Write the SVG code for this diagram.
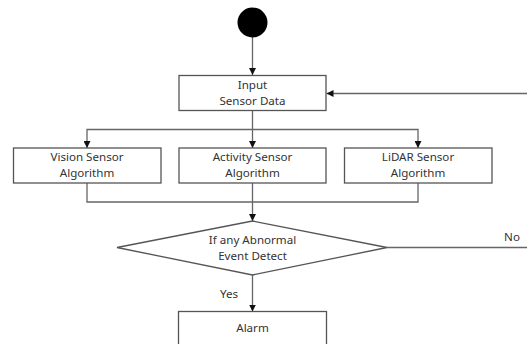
<svg xmlns="http://www.w3.org/2000/svg" width="527" height="344" viewBox="0 0 527 344">
<defs>
<marker id="ah" viewBox="0 0 10 10" refX="10" refY="5" markerWidth="7" markerHeight="7" orient="auto" markerUnits="userSpaceOnUse">
<path d="M0,0 L10,5 L0,10 z" fill="#111"/>
</marker>
<style>
.box{fill:#fff;stroke:#555;stroke-width:1.3}
.ln{fill:none;stroke:#666;stroke-width:1.3}
.t{font-family:"Noto Sans","Open Sans",sans-serif;font-size:11.6px;fill:#333;text-anchor:middle}
</style>
</defs>
<rect width="527" height="344" fill="#fff"/>
<g id="connectors">
<line class="ln" x1="252.5" y1="37" x2="252.5" y2="75" marker-end="url(#ah)"/>
<line class="ln" x1="527" y1="93.5" x2="326.5" y2="93.5" marker-end="url(#ah)"/>
<line class="ln" x1="252.5" y1="110.5" x2="252.5" y2="148" marker-end="url(#ah)"/>
<polyline class="ln" points="252.5,129.5 87,129.5 87,148" marker-end="url(#ah)"/>
<polyline class="ln" points="252.5,129.5 418,129.5 418,148" marker-end="url(#ah)"/>
<polyline class="ln" points="87,183 87,202 418,202 418,183"/>
<line class="ln" x1="252.5" y1="183" x2="252.5" y2="221" marker-end="url(#ah)"/>
<line class="ln" x1="387" y1="247.5" x2="527" y2="247.5"/>
<line class="ln" x1="252.5" y1="275" x2="252.5" y2="311.5" marker-end="url(#ah)"/>
<text class="t" x="229" y="298">Yes</text>
<text class="t" x="512" y="241">No</text>
</g>
<g id="start"><circle cx="252.5" cy="22.5" r="15" fill="#000"/></g>
<g id="input">
<rect class="box" x="179" y="75.5" width="147" height="35"/>
<text class="t" x="252.5" y="88.5">Input</text>
<text class="t" x="252.5" y="104.5">Sensor Data</text>
</g>
<g id="vision">
<rect class="box" x="13.5" y="148" width="147.5" height="35"/>
<text class="t" x="87" y="160.5">Vision Sensor</text>
<text class="t" x="87" y="176.5">Algorithm</text>
</g>
<g id="activity">
<rect class="box" x="179" y="148" width="147" height="35"/>
<text class="t" x="252.5" y="160.5">Activity Sensor</text>
<text class="t" x="252.5" y="176.5">Algorithm</text>
</g>
<g id="lidar">
<rect class="box" x="344.5" y="148" width="147.5" height="35"/>
<text class="t" x="418" y="160.5">LiDAR Sensor</text>
<text class="t" x="418" y="176.5">Algorithm</text>
</g>
<g id="decision">
<polygon class="box" points="252.5,221 387,247.5 252.5,275 117,247.5"/>
<text class="t" x="252.5" y="243.5">If any Abnormal</text>
<text class="t" x="252.5" y="259.5">Event Detect</text>
</g>
<g id="alarm">
<rect class="box" x="178.5" y="311.5" width="148" height="45"/>
<text class="t" x="252.5" y="331.5">Alarm</text>
</g>
</svg>
